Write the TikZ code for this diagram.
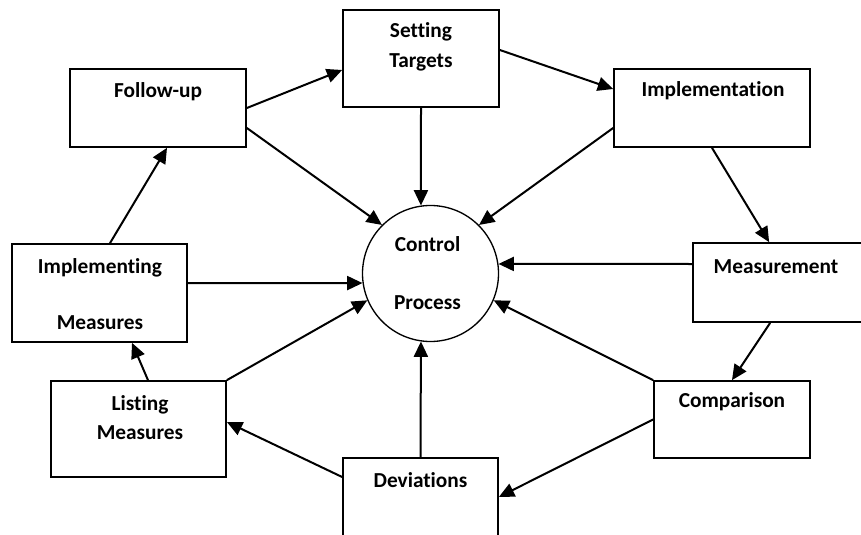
\documentclass[tikz,border=0pt]{standalone}
\usepackage{fontspec}
\setmainfont{Carlito}[Ligatures=NoCommon]
\usetikzlibrary{arrows.meta, positioning, calc}

\tikzset{
  box/.style={draw, rectangle, line width=1.3pt, inner sep=0pt},
  hub/.style={draw, circle, line width=1pt, minimum size=102pt, inner sep=0pt},
  lbl/.style={font=\bfseries\fontsize{16}{19}\selectfont, align=center, inner sep=0pt},
  flow/.style={-{Triangle[length=11.5pt,width=10.5pt]}, line width=1.5pt},
}

\begin{document}
\begin{tikzpicture}[x=0.75pt, y=-0.75pt]
  \clip (0,0) rectangle (861,535);
  \fill[white] (0,0) rectangle (861,535);
  % the boxes: name/x/y/width/height (width, height in pt)
  \foreach \n/\x/\y/\w/\h in {fu/158/108/132/58.5, st/421/58.5/117/72.75,
      im/712/108/147/58.5, ms/786.5/282.5/140.25/59.25, cm/732/419.5/117/57.75,
      dv/420.5/497/116.25/58.5, ls/138.5/429/131.25/72, imp/99.5/293/131.25/73.5} {
    \node[box, minimum width=\w pt, minimum height=\h pt] (\n) at (\x,\y) {};
  }
  \node[hub] (cp) at (430.5,273.5) {};

  % texts
  \node[lbl] (fu-t) at ($(fu.north)+(0,24)$) {Follow-up};
  \node[lbl] (st-t) at ($(st.north)+(0,38)$) {Setting\\[3.5pt]Targets};
  \node[lbl] (im-t) at ($(im.north)+(1,23)$) {Implementation};
  \node[lbl] (ms-t) at (776,267) {Measurement};
  \node[lbl] (cm-t) at ($(cm.north)+(0,22)$) {Comparison};
  \node[lbl] (dv-t) at ($(dv.north)+(0,23)$) {Deviations};
  \node[lbl] (ls-t) at ($(ls.north)+(1.5,37)$) {Listing\\[2.75pt]Measures};
  \node[lbl] (imp-t) at ($(imp.north)+(0.5,51)$) {Implementing\\[23pt]Measures};
  \node[lbl] (cp-t) at ($(cp.center)+(-3,0)$) {Control\\[24.5pt]Process};

  % the cycle
  \draw[flow] (fu.east) -- ($(st.west)+(0,11.5)$);
  \draw[flow] ($(st.east)+(0,-8.5)$) -- ($(im.west)+(0,-19)$);
  \draw[flow] (im.south) -- ($(ms.north west)+(77,0)$);
  \draw[flow] ($(ms.south west)+(78,0)$) -- (cm.north);
  \draw[flow] (cm.west) -- (dv.east);
  \draw[flow] ($(dv.west)+(0,-20)$) -- ($(ls.east)+(0,-7)$);
  \draw[flow] ($(ls.north)+(9.5,0)$) -- ($(imp.south)+(32.5,0)$);
  \draw[flow] ($(imp.north)+(10.5,0)$) -- ($(fu.south)+(9,0)$);

  % spokes into the control process
  \draw[flow] ($(fu.east)+(0,20)$) -- (cp.135);
  \draw[flow] (st.south) -- (cp.98);
  \draw[flow] ($(im.west)+(0,20)$) -- (cp.45);
  \draw[flow] ($(ms.west)+(0,-18.5)$) -- (cp.8);
  \draw[flow] (cm.north west) -- (cp.337);
  \draw[flow] (dv.north) -- (cp.262);
  \draw[flow] (ls.north east) -- (cp.203);
  \draw[flow] ($(imp.east)+(0,-10)$) -- (cp.188);
\end{tikzpicture}
\end{document}
